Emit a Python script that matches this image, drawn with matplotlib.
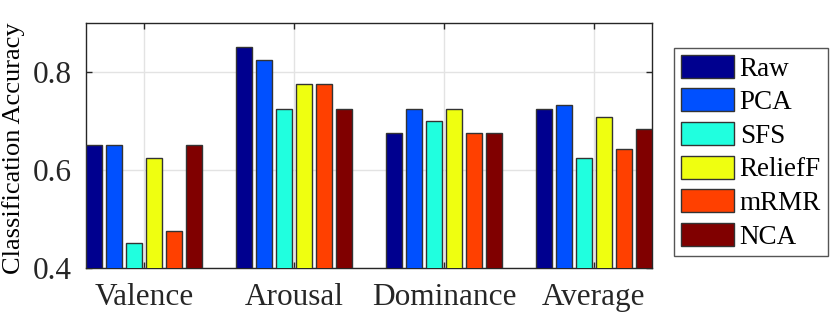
import matplotlib
matplotlib.use("Agg")
import matplotlib.pyplot as plt
import numpy as np

categories = ["Valence", "Arousal", "Dominance", "Average"]
methods = ["Raw", "PCA", "SFS", "ReliefF", "mRMR", "NCA"]
raw = [0.650, 0.850, 0.675, 0.725]
pca = [0.650, 0.825, 0.725, 0.733]
sfs = [0.450, 0.725, 0.700, 0.625]
relieff = [0.625, 0.775, 0.725, 0.708]
mrmr = [0.475, 0.775, 0.675, 0.642]
nca = [0.650, 0.725, 0.675, 0.683]
series = [raw, pca, sfs, relieff, mrmr, nca]
colors = ["#00008F", "#0050FF", "#20FFDF", "#EFFF10", "#FF4000", "#800000"]
yticks = [0.4, 0.6, 0.8]

plt.rcParams['font.family'] = ['Liberation Serif', 'DejaVu Serif']

fig = plt.figure(figsize=(8.3, 3.17), dpi=100)
ax = fig.add_axes([0.1036, 0.1546, 0.6819, 0.7729])

x = np.arange(1, len(categories) + 1)
n = len(series)
step = 0.8 / n
width = step * 0.83
for i, (vals, c, m) in enumerate(zip(series, colors, methods)):
    off = (i - (n - 1) / 2) * step
    ax.bar(x + off, vals, width=width, color=c, edgecolor="#333333",
           linewidth=1.0, label=m, zorder=3)

ax.set_xlim(0.613, 4.387)
ax.set_ylim(0.4, 0.9)
ax.set_xticks(x)
ax.set_xticklabels(categories)
ax.set_yticks(yticks)
ax.set_yticklabels([f"{v:.1f}" for v in yticks])
ax.set_ylabel("Classification Accuracy", fontsize=19)
ax.yaxis.set_label_coords(-0.108, 0.49)
ax.tick_params(axis='both', which='both', direction='in', length=4.5, width=1.0,
               top=True, right=True, colors="#262626", labelcolor="#262626")
ax.tick_params(axis='x', labelsize=22.5, pad=11)
ax.tick_params(axis='y', labelsize=22.5, pad=10)
ax.grid(True, color="#E3E3E3", linewidth=1.0, zorder=0)
ax.set_axisbelow(True)
for s in ax.spines.values():
    s.set_color("#262626")
    s.set_linewidth(1.0)

leg = fig.legend(loc="upper left", bbox_to_anchor=(0.812, 0.8486),
                 bbox_transform=fig.transFigure, borderaxespad=0,
                 fontsize=19.5, handlelength=1.95, handleheight=0.93,
                 labelspacing=0.25, handletextpad=0.23, borderpad=0.25,
                 fancybox=False, framealpha=1, edgecolor="#555555")
leg.get_frame().set_linewidth(1.0)

fig.savefig("out.png", dpi=100)
